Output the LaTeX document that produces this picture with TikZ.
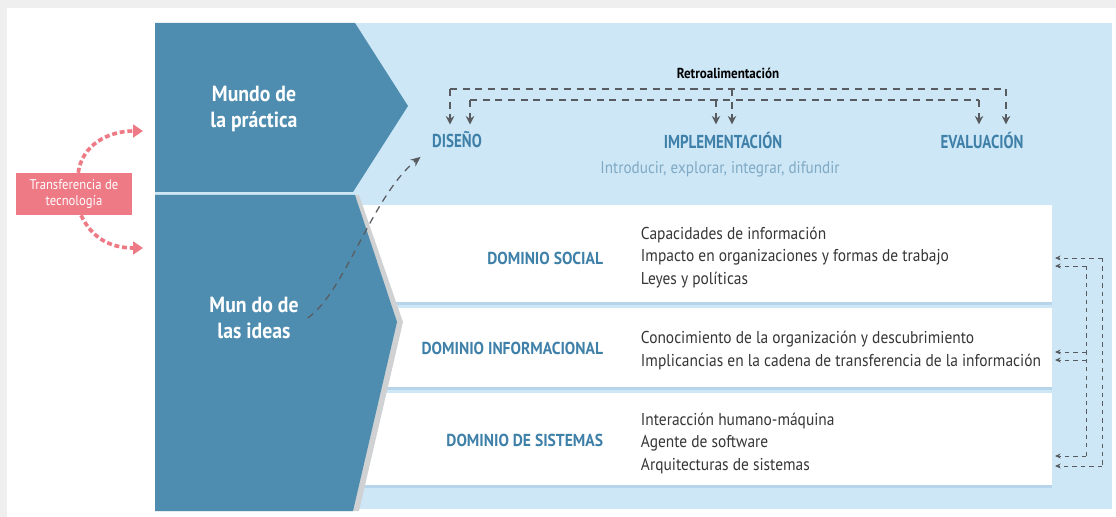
\documentclass[tikz,border=0pt]{standalone}
\usepackage{fontspec}
\setmainfont{PT Sans}
\newfontfamily\condensed[FakeStretch=0.9]{PT Sans}
\newfontfamily\narrowcaps[FakeStretch=0.8]{PT Sans}
\usepackage{tikz}
\usetikzlibrary{arrows.meta,positioning}

\definecolor{framegray}{HTML}{EFEFEF}
\definecolor{paleblue}{HTML}{CDE7F6}
\definecolor{rowshade}{HTML}{B7D5EA}
\definecolor{deepblue}{HTML}{4F8DB0}
\definecolor{edgegray}{HTML}{CFD1D2}
\definecolor{titleblue}{HTML}{3F80A9}
\definecolor{verbblue}{HTML}{7FA9C4}
\definecolor{textgray}{HTML}{363636}
\definecolor{dashgray}{HTML}{585C60}
\definecolor{rosebox}{HTML}{EE7A86}

\begin{document}
\begin{tikzpicture}[x=0.025cm, y=-0.025cm,
  world/.style={text=white, align=center, font=\condensed\bfseries\fontsize{15.6}{18}\selectfont},
  phase/.style={text=titleblue, inner sep=1pt, font=\narrowcaps\bfseries\fontsize{13.3}{15}\selectfont},
  domainlabel/.style={text=titleblue, anchor=east, font=\condensed\bfseries\fontsize{12.3}{14}\selectfont},
  items/.style={text=textgray, anchor=west, align=left, font=\condensed\fontsize{12.2}{16}\selectfont},
  fbdash/.style={dashgray, line width=0.9pt, dash pattern=on 5pt off 4pt},
  fbtip/.style={fbdash, shorten >=4pt, -{Stealth[length=6pt,width=6pt]}},
  fbsmall/.style={dashgray, line width=0.6pt, dash pattern=on 3pt off 3pt, -{Stealth[length=4pt,width=3.5pt]}},
  pinkflow/.style={rosebox, line width=2.6pt, dash pattern=on 3.5pt off 2pt, -{Triangle[length=7pt,width=9pt]}}]
  \useasboundingbox (0,0) rectangle (1116,517);
  \fill[framegray] (0,0) rectangle (1116,517);
  \fill[white] (7,8) rectangle (1116,517);
  \fill[paleblue] (155,23) rectangle (1112,509);
  % domain rows
  \fill[rowshade] (340,208) rectangle (1052,305);
  \fill[rowshade] (340,311) rectangle (1052,390);
  \fill[rowshade] (340,396) rectangle (1052,488);
  \fill[white] (340,205) rectangle (1052,302);
  \fill[white] (340,308) rectangle (1052,387);
  \fill[white] (340,393) rectangle (1052,485);
  % chevrons
  \fill[edgegray] (155,195) -- (359,195) -- (403,322) -- (359,511) -- (155,511) -- cycle;
  \fill[deepblue] (155,23) -- (355,23) -- (408,106) -- (353,192) -- (155,192) -- cycle;
  \fill[deepblue] (155,195) -- (355,195) -- (397,322) -- (353,511) -- (155,511) -- cycle;
  \node[world] (practica) at (254,109) {Mundo de\\la práctica};
  \node[world] (ideas) at (254,318) {Mun do de\\las ideas};
  % technology transfer
  \node[fill=rosebox, text=white, minimum width=2.875cm, minimum height=1.05cm, align=center,
        inner sep=1pt, font=\condensed\fontsize{10}{11.5}\selectfont] (transfer) at (74,194)
        {Transferencia de\\tecnología};
  \coordinate (toPractica) at (143,131);
  \coordinate (toIdeas) at (143,248);
  \draw[pinkflow] ([xshift=3pt]transfer.north) .. controls (82,145) and (108,131) .. (toPractica);
  \draw[pinkflow] ([xshift=5pt]transfer.south) .. controls (92,238) and (110,248) .. (toIdeas);
  % phases
  \node[phase] (diseno) at (457,140) {DISEÑO};
  \node[phase] (impl) at (723,140) {IMPLEMENTACIÓN};
  \node[phase] (evalua) at (982,140) {EVALUACIÓN};
  \node[text=verbblue, font=\condensed\fontsize{12}{14}\selectfont] (verbs) at (720,169)
        {Introducir, explorar, integrar, difundir};
  \node[text=black, font=\condensed\bfseries\fontsize{10.3}{12}\selectfont] (retro) at (728,73) {Retroalimentación};
  % feedback above the phases
  \coordinate (outerW) at (450,89);
  \coordinate (outerE) at (1006,89);
  \coordinate (innerW) at (470,100);
  \coordinate (innerE) at (979,100);
  \draw[fbdash] (outerW) -- (outerE);
  \draw[fbdash] (innerW) -- (innerE);
  \draw[fbtip] (outerW) -- (outerW |- diseno.north);
  \draw[fbtip] (innerW) -- (innerW |- diseno.north);
  \draw[fbtip] (716,100) -- (716,0 |- impl.north);
  \draw[fbtip] (732,89) -- (732,0 |- impl.north);
  \draw[fbtip] (innerE) -- (innerE |- evalua.north);
  \draw[fbtip] (outerE) -- (outerE |- evalua.north);
  \draw[fbdash, -{Stealth[length=7pt,width=6pt]}] ([xshift=3pt]ideas.east) .. controls (345,292) and (372,196) .. ([shift={(-10,7)}]diseno.south west);
  % domains
  \node[domainlabel] (social) at (608,258) {DOMINIO SOCIAL};
  \node[domainlabel] (informacional) at (608,348) {DOMINIO INFORMACIONAL};
  \node[domainlabel] (sistemas) at (608,440) {DOMINIO DE SISTEMAS};
  \node[items] (socialitems) at (636,257.5) {Capacidades de información\\Impacto en organizaciones y formas de trabajo\\Leyes y políticas};
  \node[items] (infoitems) at (636,350.5) {Conocimiento de la organización y descubrimiento\\Implicancias en la cadena de transferencia de la información};
  \node[items] (sistitems) at (636,443.5) {Interacción humano-máquina\\Agente de software\\Arquitecturas de sistemas};
  % feedback at the right
  \coordinate (sideTop) at (1102,258);
  \coordinate (sideBot) at (1102,466);
  \coordinate (innerTop) at (1086,266);
  \coordinate (innerBot) at (1086,456);
  \draw[fbsmall, -] (sideTop) -- (sideBot);
  \draw[fbsmall, -] (innerTop) -- (innerBot);
  \draw[fbsmall] (sideTop) -- (1055,258);
  \draw[fbsmall] (sideBot) -- (1055,466);
  \draw[fbsmall] (innerTop) -- (1055,266);
  \draw[fbsmall] (1086,352) -- (1055,352);
  \draw[fbsmall] (1086,360) -- (1055,360);
  \draw[fbsmall] (innerBot) -- (1055,456);
\end{tikzpicture}
\end{document}
